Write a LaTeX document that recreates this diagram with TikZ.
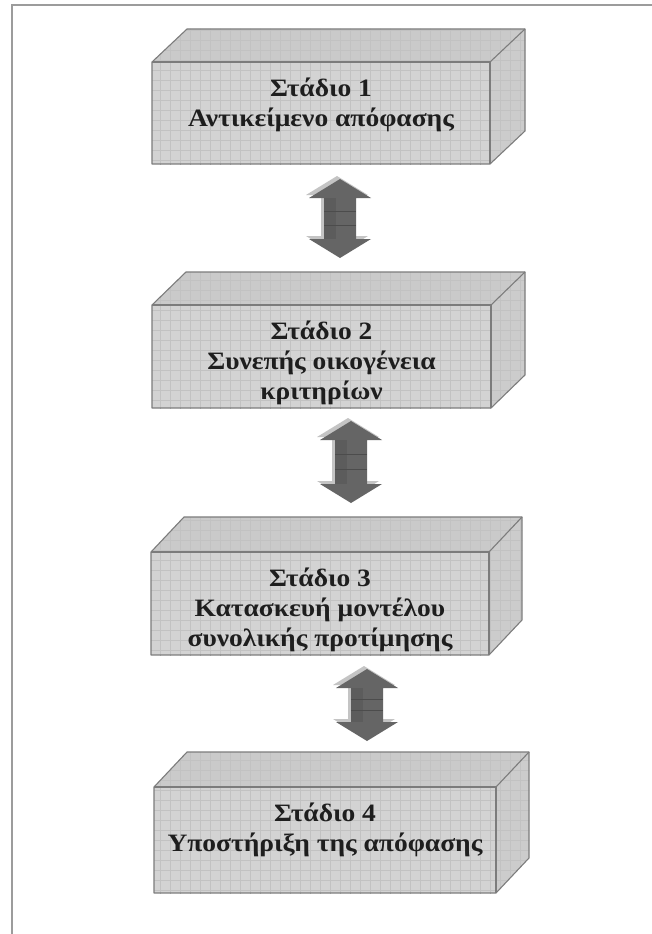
\documentclass[tikz,border=0pt]{standalone}
\usepackage{fontspec}
\setmainfont{Liberation Serif}
\newfontfamily\stagefont[FakeStretch=1.1]{Liberation Serif}

\definecolor{facefront}{HTML}{D3D3D3}
\definecolor{facetop}{HTML}{CACACA}
\definecolor{faceside}{HTML}{CCCCCC}
\definecolor{gridcol}{HTML}{C2C2C2}
\definecolor{edgecol}{HTML}{7C7C7C}
\definecolor{arrowcol}{HTML}{656565}
\definecolor{bevelcol}{HTML}{C4C4C4}
\definecolor{framecol}{HTML}{9C9C9C}
\definecolor{inkcol}{HTML}{1E1E1E}

\tikzset{
  gridline/.style={draw=gridcol, line width=0.4pt},
  boxedge/.style={draw=edgecol, line width=1.1pt, line join=round},
  stagetext/.style={font=\stagefont\bfseries\fontsize{25}{30}\selectfont, text=inkcol,
    align=center, inner sep=0pt},
  frameline/.style={draw=framecol, line width=2pt},
  shaftline/.style={draw=black!70, line width=0.6pt}
}

% #1 name, #2 left, #3 right, #4 front top, #5 bottom, #6 depth x, #7 depth y, #8 text
\newcommand\stagebox[8]{%
  \path (#2,#4) coordinate (#1-a)
        (#3,#4) coordinate (#1-b)
        (#3,#5) coordinate (#1-c)
        (#2,#5) coordinate (#1-d)
        ({#2+#6},{#4-#7}) coordinate (#1-e)
        ({#3+#6},{#4-#7}) coordinate (#1-f)
        ({#3+#6},{#5-#7}) coordinate (#1-g);
  % top face
  \begin{scope}
    \clip (#1-a) -- (#1-e) -- (#1-f) -- (#1-b) -- cycle;
    \fill[facetop] (#1-a) -- (#1-e) -- (#1-f) -- (#1-b) -- cycle;
    \draw[gridline, step=10pt] (0,0) grid (652,934);
  \end{scope}
  % side face
  \begin{scope}
    \clip (#1-b) -- (#1-f) -- (#1-g) -- (#1-c) -- cycle;
    \fill[faceside] (#1-b) -- (#1-f) -- (#1-g) -- (#1-c) -- cycle;
    \draw[gridline, step=10pt] (0,0) grid (652,934);
  \end{scope}
  % front face
  \begin{scope}
    \clip (#1-a) rectangle (#1-c);
    \fill[facefront] (#1-a) rectangle (#1-c);
    \draw[gridline, step=10pt] (0,0) grid (652,934);
  \end{scope}
  \draw[boxedge] (#1-d) -- (#1-a) -- (#1-e) -- (#1-f) -- (#1-g) -- (#1-c) -- cycle;
  \draw[boxedge] (#1-a) -- (#1-b) -- (#1-c);
  \draw[boxedge] (#1-b) -- (#1-f);
  \node[stagetext, anchor=north] (#1) at ({(#2+#3)/2},{#4+16}) {#8};
}

% double-headed block arrow: #1 name, #2 centre x, #3 top tip, #4 bottom tip
\newcommand\dblarrow[4]{%
  \coordinate (#1-top) at (#2,#3);
  \coordinate (#1-bot) at (#2,#4);
  \fill[bevelcol, shift={(-3,-3)}]
    (#2,#3) -- ({#2+31},{#3+19}) -- ({#2+16},{#3+19}) -- ({#2+16},{#4-19})
    -- ({#2+31},{#4-19}) -- (#2,#4) -- ({#2-31},{#4-19}) -- ({#2-16},{#4-19})
    -- ({#2-16},{#3+19}) -- ({#2-31},{#3+19}) -- cycle;
  \fill[arrowcol]
    (#2,#3) -- ({#2+31},{#3+19}) -- ({#2+16},{#3+19}) -- ({#2+16},{#4-19})
    -- ({#2+31},{#4-19}) -- (#2,#4) -- ({#2-31},{#4-19}) -- ({#2-16},{#4-19})
    -- ({#2-16},{#3+19}) -- ({#2-31},{#3+19}) -- cycle;
  \fill[black!64] ({#2-16},{#3+19}) rectangle ({#2-4},{#4-19});
  \draw[shaftline] ({#2-16},{#3+19+(#4-#3-38)/3}) -- ({#2+16},{#3+19+(#4-#3-38)/3});
  \draw[shaftline] ({#2-16},{#3+19+2*(#4-#3-38)/3}) -- ({#2+16},{#3+19+2*(#4-#3-38)/3});
}

\begin{document}
\begin{tikzpicture}[x=1pt, y=-1pt]
  \useasboundingbox[fill=white] (0,0) rectangle (652,934);

  % page frame (left and top edges)
  \draw[frameline] (12,934) -- (12,5) -- (652,5);

  \stagebox{s1}{152}{490}{62}{164}{35}{33}{Στάδιο 1\\Αντικείμενο απόφασης}
  \stagebox{s2}{152}{491}{305}{408}{34}{33}{Στάδιο 2\\Συνεπής οικογένεια\\κριτηρίων}
  \stagebox{s3}{151}{489}{552}{655}{33}{35}{Στάδιο 3\\Κατασκευή μοντέλου\\συνολικής προτίμησης}
  \stagebox{s4}{154}{496}{787}{893}{33}{35}{Στάδιο 4\\Υποστήριξη της απόφασης}

  \dblarrow{a12}{340}{179}{258}
  \dblarrow{a23}{351}{421}{503}
  \dblarrow{a34}{367}{669}{741}
\end{tikzpicture}
\end{document}
